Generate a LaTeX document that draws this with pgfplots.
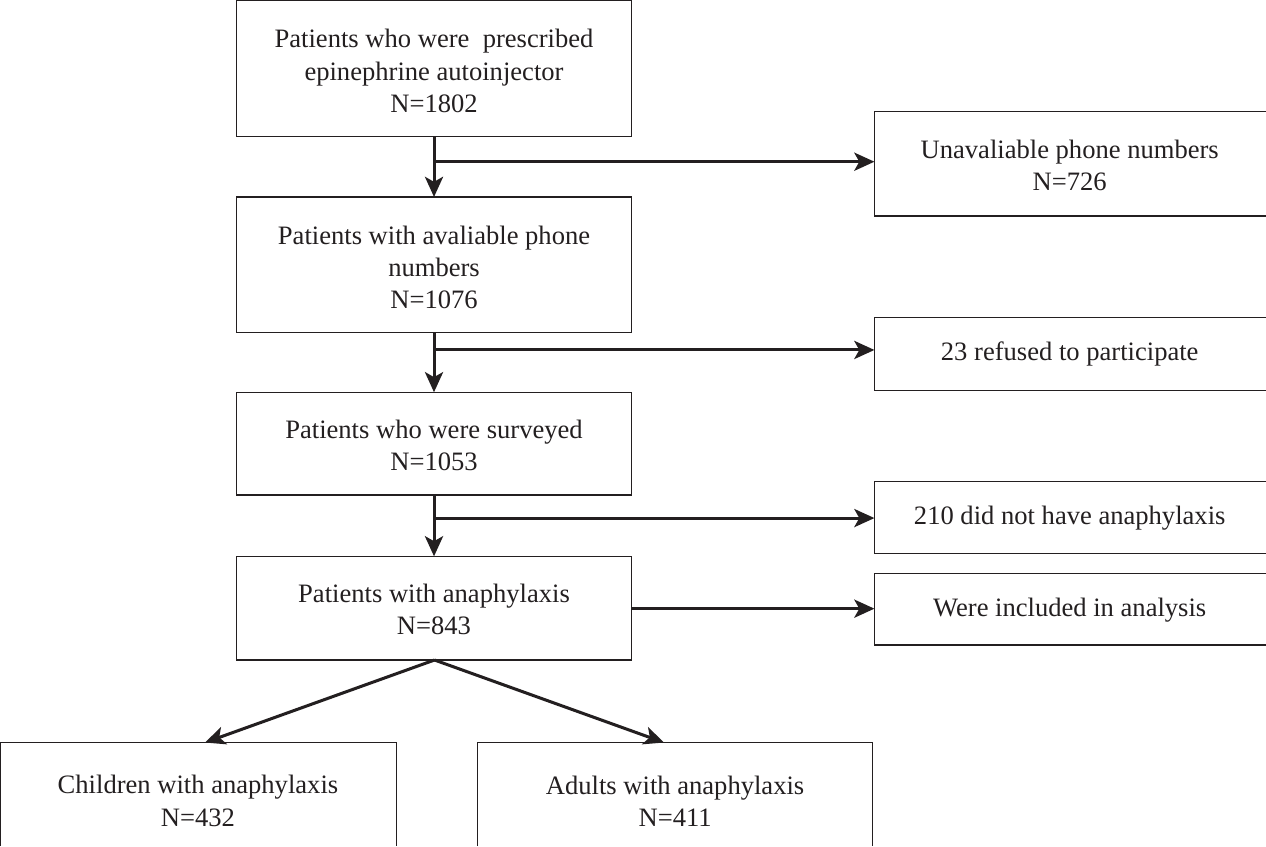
\documentclass[border=0pt]{standalone}
\usepackage{fontspec}
\setmainfont{Liberation Serif}
\usepackage{pgfplots}
\pgfplotsset{compat=1.18}
\usetikzlibrary{arrows.meta}
\definecolor{ink}{HTML}{231F20}
\tikzset{
 box/.style={ink, line width=0.65pt},
 arr/.style={ink, line width=1.5pt, -{Stealth[length=10pt,width=9pt,inset=2.5pt]}},
 lab/.style={font=\fontsize{13.2pt}{16pt}\selectfont, align=center, text=ink, anchor=center, inner sep=0pt}
}
\begin{document}
\begin{tikzpicture}
\begin{axis}[
 scale only axis, width=633pt, height=424pt,
 xmin=0, xmax=1266, ymin=0, ymax=848, y dir=reverse,
 axis lines=none, clip=true
]
% main column boxes
\addplot[box] coordinates {(243,8) (636,8) (636,143) (243,143) (243,8)};
\addplot[box] coordinates {(243,203) (636,203) (636,338) (243,338) (243,203)};
\addplot[box] coordinates {(243,397) (636,397) (636,499) (243,499) (243,397)};
\addplot[box] coordinates {(243,560) (636,560) (636,663) (243,663) (243,560)};
% right column boxes
\addplot[box] coordinates {(1266,118) (877,118) (877,222) (1266,222)};
\addplot[box] coordinates {(1266,323) (877,323) (877,395) (1266,395)};
\addplot[box] coordinates {(1266,486) (877,486) (877,557) (1266,557)};
\addplot[box] coordinates {(1266,577) (877,577) (877,648) (1266,648)};
% bottom boxes
\addplot[box] coordinates {(9,848) (9,745) (402,745) (402,848)};
\addplot[box] coordinates {(483,848) (483,745) (875,745) (875,848)};
% vertical arrows
\addplot[arr] coordinates {(439.5,143) (439.5,203)};
\addplot[arr] coordinates {(439.5,338) (439.5,397)};
\addplot[arr] coordinates {(439.5,499) (439.5,560)};
% horizontal arrows
\addplot[arr] coordinates {(439.5,168) (877,168)};
\addplot[arr] coordinates {(439.5,355) (877,355)};
\addplot[arr] coordinates {(439.5,522) (877,522)};
\addplot[arr] coordinates {(636,612) (877,612)};
% diagonal arrows
\addplot[arr] coordinates {(440,663) (212,745)};
\addplot[arr] coordinates {(440,663) (668,745)};
% labels
\node[lab] at (axis cs:439.5,78) {Patients who were~ prescribed\\epinephrine autoinjector\\N=1802};
\node[lab] at (axis cs:439.5,273) {Patients with avaliable phone\\numbers\\N=1076};
\node[lab] at (axis cs:439.5,450) {Patients who were surveyed\\N=1053};
\node[lab] at (axis cs:439.5,613) {Patients with anaphylaxis\\N=843};
\node[lab] at (axis cs:1071,172) {Unavaliable phone numbers\\N=726};
\node[lab] at (axis cs:1071,359) {23 refused to participate};
\node[lab] at (axis cs:1071,522) {210 did not have anaphylaxis};
\node[lab] at (axis cs:1071,613) {Were included in analysis};
\node[lab] at (axis cs:205,803) {Children with anaphylaxis\\N=432};
\node[lab] at (axis cs:679,803) {Adults with anaphylaxis\\N=411};
\end{axis}
\end{tikzpicture}
\end{document}
